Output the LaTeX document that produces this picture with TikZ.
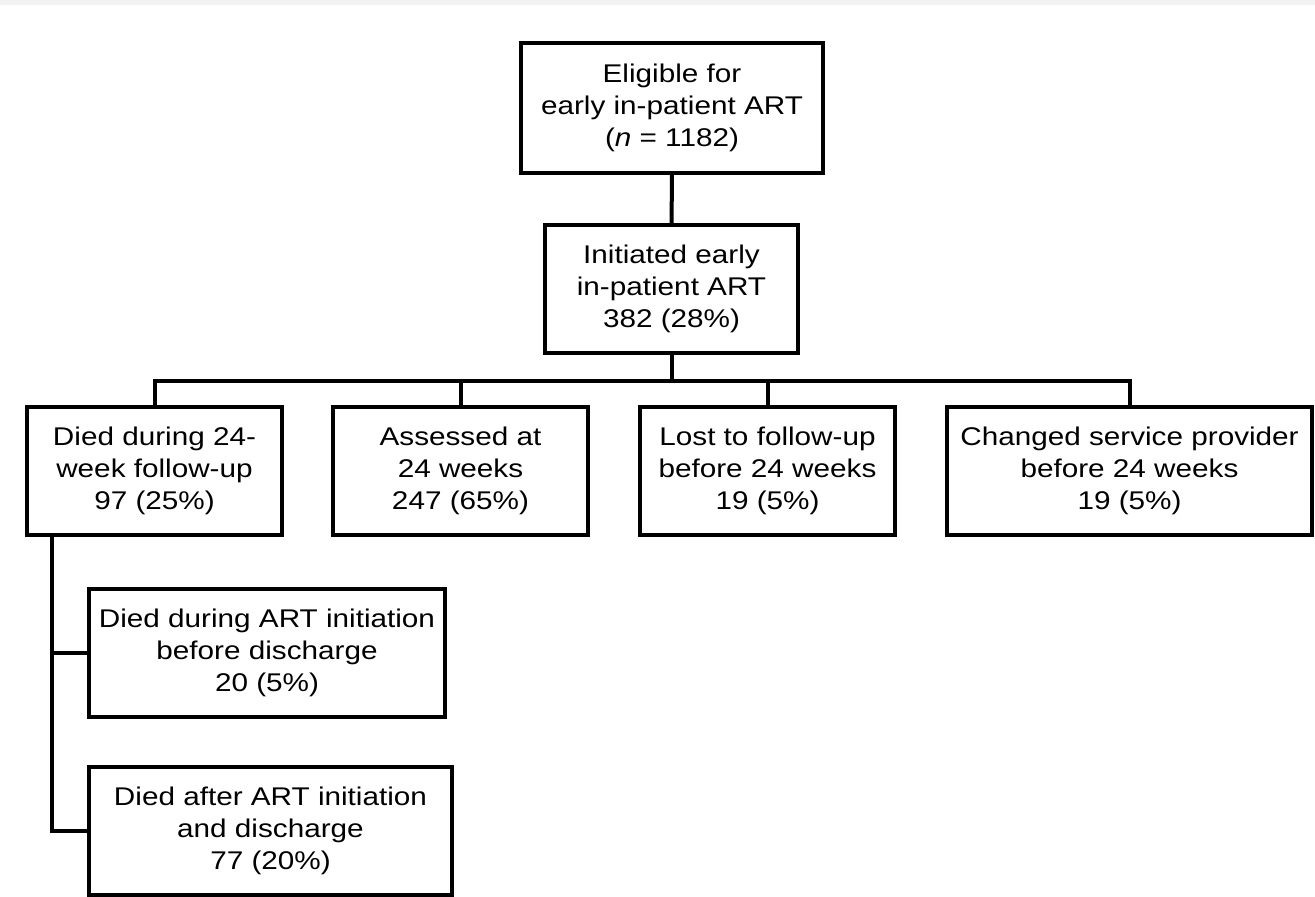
\documentclass[tikz,border=0pt]{standalone}
\usepackage{fontspec}
\setmainfont{Liberation Sans}[FakeStretch=1.16]
\usetikzlibrary{positioning}

\tikzset{
box/.style={draw, line width=4pt, inner sep=0pt, align=center,
  minimum height=128pt, font=\fontsize{25.6}{32}\selectfont},
link/.style={line width=4pt}}

\begin{document}
\begin{tikzpicture}[x=1pt, y=-1pt]

                \useasboundingbox (0,0) rectangle (1315,897);
                \fill[black!5] (0,0) rectangle (1315,5);

                \node[box, minimum width=302pt, minimum height=130pt] (eligible) at (672,108) {Eligible for\\early in-patient ART\\(\textit{n} = 1182)};
                \node[box, minimum width=253pt] (initiated) at (671.5,289) {Initiated early\\in-patient ART\\382 (28\%)};

                \node[box, minimum width=255pt] (died) at (154.5,471) {Died during 24-\\week follow-up\\97 (25\%)};
                \node[box, minimum width=255pt] (assessed) at (460.5,471) {Assessed at\\24 weeks\\247 (65\%)};
                \node[box, minimum width=255pt] (lost) at (767.5,471) {Lost to follow-up\\before 24 weeks\\19 (5\%)};
                \node[box, minimum width=365pt] (changed) at (1129.5,471) {Changed service provider\\before 24 weeks\\19 (5\%)};

                \node[box, minimum width=356pt] (diedpre) at (267,652.5) {Died during ART initiation\\before discharge\\20 (5\%)};
                \node[box, minimum width=363pt] (diedpost) at (270.5,831) {Died after ART initiation\\and discharge\\77 (20\%)};

                \coordinate (bus) at (671.5,381);
                \coordinate (spine) at (52,535);

                \draw[link] (eligible) -- (initiated);
                \draw[link] (initiated) -- (bus);
                \draw[link] (died.north) |- (bus) -| (changed.north);
                \draw[link] (assessed.north) -- (assessed.north |- bus);
                \draw[link] (lost.north) -- (lost.north |- bus);

                \draw[link] (spine) |- (diedpost.west);
                \draw[link] (spine |- diedpre.west) -- (diedpre.west);

            \end{tikzpicture}
\end{document}
